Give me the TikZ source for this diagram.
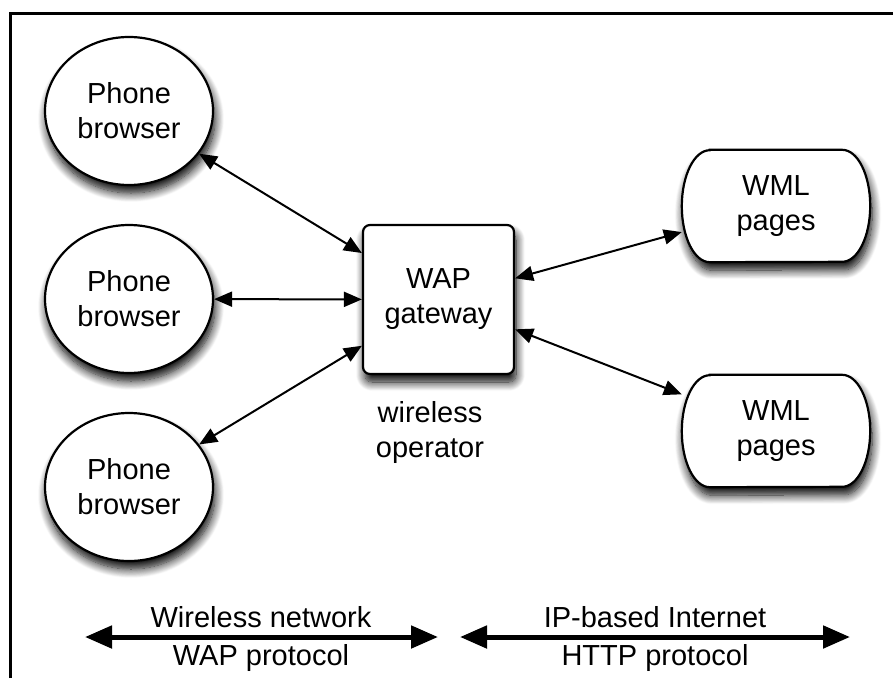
\documentclass[tikz,border=0pt]{standalone}
\usepackage{fontspec}
\setmainfont{Liberation Sans}
\usetikzlibrary{arrows.meta,shapes.geometric,shadows.blur,backgrounds}

\begin{document}
\begin{tikzpicture}[x=1pt,y=-1pt,
  every node/.style={font=\fontsize{29}{35}\selectfont, align=center, inner sep=0pt},
  dropshadow/.style={blur shadow={shadow xshift=2pt, shadow yshift=-8pt,
      shadow blur radius=9pt, shadow opacity=100, shadow blur steps=12}},
  phone/.style={ellipse, draw, line width=2.2pt, fill=white,
      minimum width=168pt, minimum height=148pt, dropshadow},
  gateway/.style={rectangle, rounded corners=7pt, draw, line width=2.2pt, fill=white,
      minimum width=151pt, minimum height=149pt, dropshadow},
  pagesbox/.style={rectangle, minimum width=188pt, minimum height=112pt},
  pagesoutline/.style={draw, line width=2.2pt, fill=white, dropshadow},
  link/.style={{Triangle[length=18pt,width=15pt]}-{Triangle[length=18pt,width=15pt]},
      line width=2pt},
  bandarrow/.style={{Triangle[length=27pt,width=22pt]}-{Triangle[length=27pt,width=22pt]},
      line width=5pt},
]
\useasboundingbox (0,0) rectangle (893,678);

% outer frame (left and top edges)
\draw[line width=3pt] (10,678) -- (10,13) -- (893,13);

% phones and gateway
\node[phone] (pb1) at (129,111) {Phone\\browser};
\node[phone] (pb2) at (129,299) {Phone\\browser};
\node[phone] (pb3) at (129,487) {Phone\\browser};
\node[gateway] (gw) at (438.5,299.5) {WAP\\gateway};
\node (op) at (430,432) {wireless\\operator};

% content servers
\node[pagesbox] (wml1) at (776,206) {WML\\pages};
\node[pagesbox] (wml2) at (776,431) {WML\\pages};

\begin{scope}[on background layer]
  \foreach \n in {wml1,wml2}{
    \path[pagesoutline]
      ([xshift=28pt]\n.north west) -- ([xshift=-28pt]\n.north east)
      arc[start angle=90, end angle=-90, x radius=28pt, y radius=56pt]
      -- ([xshift=28pt]\n.south west)
      arc[start angle=270, end angle=90, x radius=28pt, y radius=56pt]
      -- cycle;
  }
\end{scope}

% connections
\draw[link] (pb1) -- (gw);
\draw[link] (pb2) -- (gw);
\draw[link] (pb3) -- (gw);
\draw[link] (gw) -- (wml1);
\draw[link] (gw) -- (wml2);

% network spans
\coordinate (wl) at (85,637);
\coordinate (wr) at (438,637);
\coordinate (il) at (460,637);
\coordinate (ir) at (850,637);
\draw[bandarrow] (wl) -- (wr);
\draw[bandarrow] (il) -- (ir);
\node[anchor=base] (t1) at (261,627) {Wireless network};
\node[anchor=base] (t2) at (261,665) {WAP protocol};
\node[anchor=base] (t3) at (655,627) {IP-based Internet};
\node[anchor=base] (t4) at (655,665) {HTTP protocol};
\end{tikzpicture}
\end{document}
